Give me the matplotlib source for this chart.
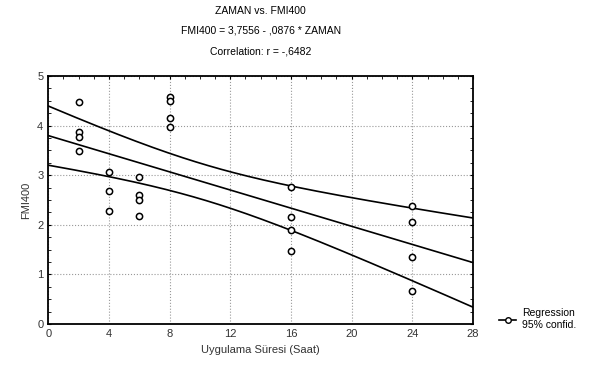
import matplotlib
matplotlib.use("Agg")
import matplotlib.pyplot as plt
import numpy as np
from matplotlib.lines import Line2D
from matplotlib.ticker import MultipleLocator

plt.rcParams['font.family'] = ['Liberation Sans', 'DejaVu Sans']

# data
zaman = [2, 2, 2, 2,
         4, 4, 4,
         6, 6, 6, 6,
         8, 8, 8, 8,
         16, 16, 16, 16,
         24, 24, 24, 24]
fmi400 = [4.47, 3.88, 3.78, 3.48,
          3.06, 2.68, 2.27,
          2.96, 2.6, 2.5, 2.17,
          4.57, 4.5, 4.16, 3.97,
          2.77, 2.15, 1.9, 1.47,
          2.37, 2.06, 1.36, 0.67]
t_crit = 2.080  # t(0.975, df=21)

x = np.array(zaman, float); y = np.array(fmi400)
slope, icpt = np.polyfit(x, y, 1)
n = len(x)
res = y - (icpt + slope*x)
s = np.sqrt(np.sum(res**2)/(n-2))
xx = np.linspace(0, 28, 200)
yy = icpt + slope*xx
se = s*np.sqrt(1/n + (xx - x.mean())**2/np.sum((x - x.mean())**2))

fig = plt.figure(figsize=(5.95, 3.76), dpi=100)
ax = fig.add_axes([0.081, 0.138, 0.714, 0.66])
ax.plot(xx, yy, color='k', lw=1.2)
ax.plot(xx, yy + t_crit*se, color='k', lw=1.2)
ax.plot(xx, yy - t_crit*se, color='k', lw=1.2)
ax.plot(x, y, 'o', mfc='white', mec='k', ms=4.5, mew=1.1, ls='none')

ax.set_xlim(0, 28); ax.set_ylim(0, 5)
ax.xaxis.set_major_locator(MultipleLocator(4))
ax.xaxis.set_minor_locator(MultipleLocator(1))
ax.yaxis.set_major_locator(MultipleLocator(1))
ax.yaxis.set_minor_locator(MultipleLocator(0.25))
ax.tick_params(which='both', direction='in', top=True, right=True, bottom=False,
               labelsize=8, labelcolor='#333333', length=2)
ax.grid(True, which='major', ls=':', color='#999999', lw=0.8)
for sp in ax.spines.values():
    sp.set_linewidth(1.3)

ax.set_xlabel('Uygulama Süresi (Saat)', fontsize=8, color='#333333')
ax.set_ylabel('FMI400', fontsize=8, color='#333333')

fig.text(0.438, 0.972, 'ZAMAN vs. FMI400', ha='center', va='center', fontsize=7.5)
fig.text(0.438, 0.918, 'FMI400 = 3,7556 - ,0876 * ZAMAN', ha='center', va='center', fontsize=7.5)
fig.text(0.438, 0.864, 'Correlation: r = -,6482', ha='center', va='center', fontsize=7.5)

h = Line2D([], [], color='k', marker='o', mfc='white', mec='k', ms=4, lw=1.2)
ax.legend([h], ['Regression\n95% confid.'], loc='center left',
          bbox_to_anchor=(1.04, 0.02), frameon=False, fontsize=7.5,
          handlelength=1.6, handletextpad=0.6)

fig.savefig('out.png', dpi=100)
